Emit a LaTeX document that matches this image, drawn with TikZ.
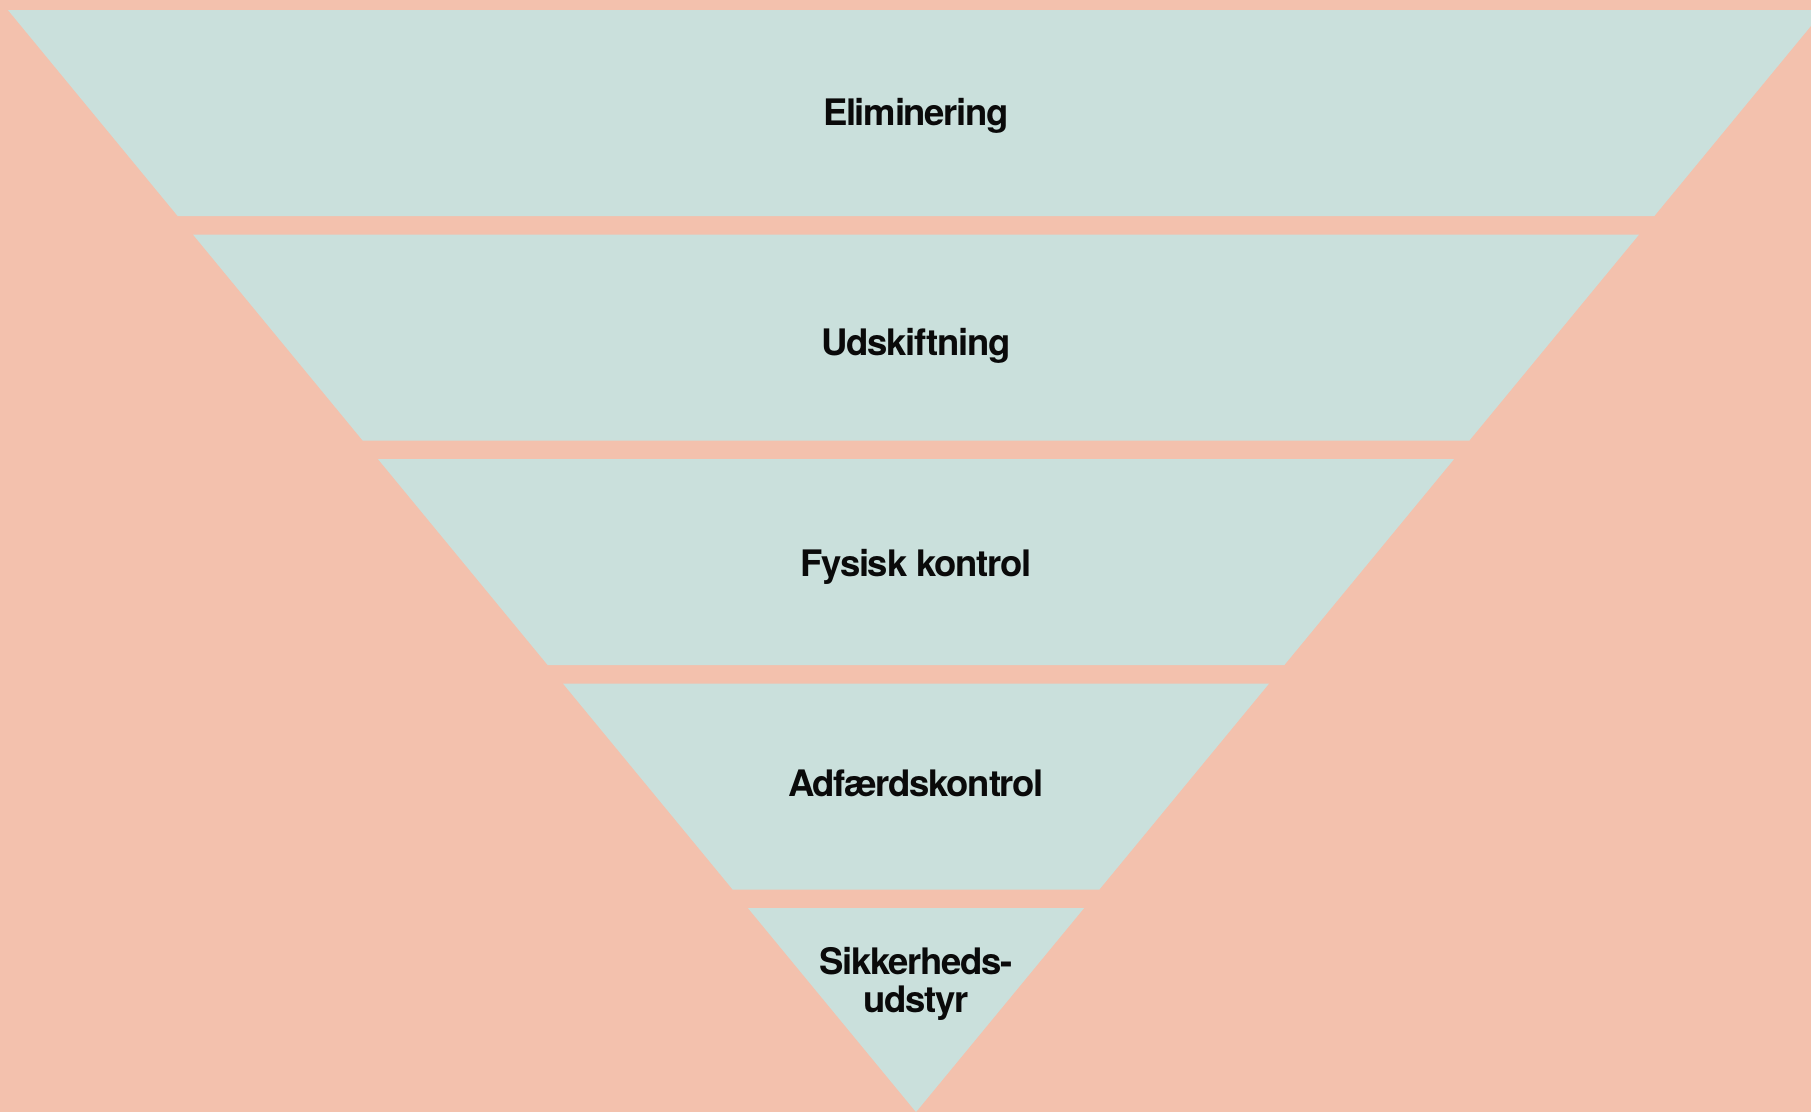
\documentclass[tikz,border=0pt]{standalone}
\usepackage{fontspec}
\setmainfont{TeX Gyre Heros}[LetterSpace=-3.5]
\definecolor{bgpink}{HTML}{F3C1AD}
\definecolor{bandteal}{HTML}{CAE0DC}
\definecolor{txt}{HTML}{0A0A0A}
\begin{document}
\begin{tikzpicture}[x=1pt,y=-1pt,
  band/.style={fill=bandteal,draw=none},
  lbl/.style={font=\fontsize{36.5}{38}\selectfont\bfseries,text=txt,anchor=base,inner sep=0pt,align=center}]
\fill[bgpink] (0,0) rectangle (1811,1112);
\useasboundingbox (0,0) rectangle (1811,1112);
\def\ax{916}\def\ay{1112}\def\sl{0.824}
\foreach \t/\b in {10/216, 234.5/440.5, 459/665, 683.5/889.5}{
  \fill[band] ({\ax-\sl*(\ay-\t)},\t) -- ({\ax+\sl*(\ay-\t)},\t) -- ({\ax+\sl*(\ay-\b)},\b) -- ({\ax-\sl*(\ay-\b)},\b) -- cycle;
}
\fill[band] ({\ax-\sl*(\ay-908)},908) -- ({\ax+\sl*(\ay-908)},908) -- (\ax,\ay) -- cycle;
\node[lbl] (l1) at (916,125) {Eliminering};
\node[lbl] (l2) at (916,355) {Udskiftning};
\node[lbl] (l3) at (916,576) {Fysisk kontrol};
\node[lbl] (l4) at (916,796) {Adfærdskontrol};
\node[lbl] (l5) at (916,1012) {Sikkerheds-\\udstyr};
\end{tikzpicture}
\end{document}
